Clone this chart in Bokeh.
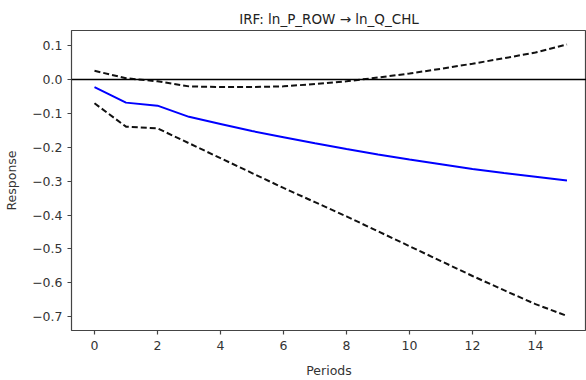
from bokeh.plotting import figure
from bokeh.models import Range1d, FixedTicker, CustomJSTickFormatter, Span
from bokeh.embed import file_html
from bokeh.resources import INLINE

periods = list(range(16))
irf = [-0.022, -0.068, -0.077, -0.110, -0.131, -0.152, -0.170, -0.188,
       -0.205, -0.221, -0.236, -0.250, -0.264, -0.276, -0.287, -0.298]
upper = [0.026, 0.004, -0.005, -0.020, -0.022, -0.022, -0.020, -0.013,
         -0.005, 0.006, 0.018, 0.032, 0.047, 0.063, 0.080, 0.104]
lower = [-0.070, -0.139, -0.144, -0.188, -0.232, -0.276, -0.320, -0.362,
         -0.404, -0.448, -0.492, -0.536, -0.580, -0.622, -0.663, -0.698]
x_ticks = [0, 2, 4, 6, 8, 10, 12, 14]
y_ticks = [-0.7, -0.6, -0.5, -0.4, -0.3, -0.2, -0.1, 0.0, 0.1]

FONT = "DejaVu Sans"
TXT = "#333333"

p = figure(width=586, height=380, output_backend="svg", toolbar_location=None,
           x_range=Range1d(-0.73, 15.62), y_range=Range1d(-0.741, 0.145),
           min_border_left=71, min_border_right=0, min_border_top=30,
           min_border_bottom=49, title="IRF: ln_P_ROW \u2192 ln_Q_CHL")

p.title.align = "center"
p.title.text_font = FONT
p.title.text_font_size = "13.5px"
p.title.text_font_style = "normal"
p.title.text_color = "#222222"
p.title.standoff = 7

p.grid.visible = False
p.background_fill_color = "white"
p.border_fill_color = "white"
p.outline_line_color = "#444444"
p.outline_line_width = 1.2

for ax in (p.xaxis[0], p.yaxis[0]):
    ax.axis_line_color = None
    ax.major_tick_line_color = "#444444"
    ax.major_tick_line_width = 1.2
    ax.major_tick_out = 4
    ax.major_tick_in = 0
    ax.minor_tick_line_color = None
    ax.major_label_text_font = FONT
    ax.major_label_text_font_size = "12.5px"
    ax.major_label_text_color = TXT
    ax.axis_label_text_font = FONT
    ax.axis_label_text_font_size = "12.5px"
    ax.axis_label_text_font_style = "normal"
    ax.axis_label_text_color = TXT

p.xaxis.major_label_standoff = 6
p.xaxis.axis_label_standoff = 10
p.yaxis.major_label_standoff = 5
p.yaxis.axis_label_standoff = 10

p.xaxis.axis_label = "Periods"
p.yaxis.axis_label = "Response"
p.xaxis.ticker = FixedTicker(ticks=x_ticks)
p.yaxis.ticker = FixedTicker(ticks=y_ticks)
p.yaxis.formatter = CustomJSTickFormatter(
    code="var s = tick.toFixed(1); if (s == '-0.0') { s = '0.0'; } return s.replace('-', '\\u2212');")

p.add_layout(Span(location=0, dimension="width", line_color="black", line_width=1.5))

p.line(periods, upper, line_color="#111111", line_width=2, line_dash="6 3")
p.line(periods, lower, line_color="#111111", line_width=2, line_dash="6 3")
p.line(periods, irf, line_color="blue", line_width=2)

open("out.html", "w").write(file_html(p, INLINE))
